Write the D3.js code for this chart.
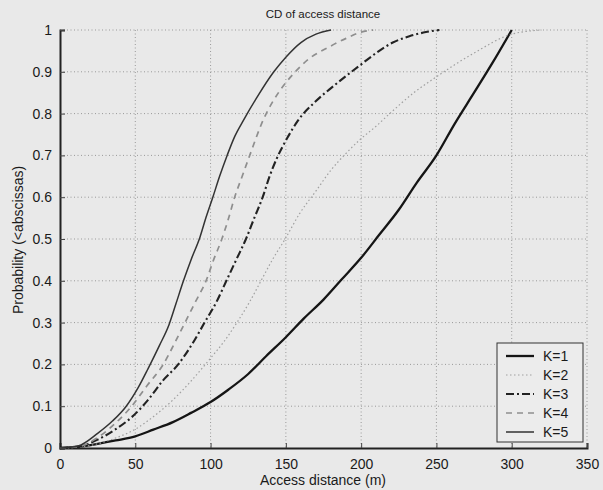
<!DOCTYPE html>
<html>
<head>
<meta charset="utf-8">
<script src="https://cdn.jsdelivr.net/npm/d3@7"></script>
<style>
  body { margin: 0; background: #e9e9e9; }
  svg { display: block; font-family: "Liberation Sans", Arial, sans-serif; }
</style>
</head>
<body>
<div id="chart"></div>
<script>
// Curve values: distance (m) and cumulative probability
const k1_x = [0, 12, 25, 37, 50, 62, 75, 87, 100, 112, 125, 137, 150, 162, 175, 187, 200, 212, 225, 237, 250, 262, 275, 287, 300];
const k1_y = [0, 0.003, 0.01, 0.018, 0.028, 0.044, 0.062, 0.084, 0.11, 0.14, 0.177, 0.22, 0.265, 0.31, 0.355, 0.403, 0.455, 0.51, 0.57, 0.635, 0.70, 0.775, 0.85, 0.92, 1.0];

const k2_x = [0, 12, 25, 37, 50, 62, 75, 87, 100, 109, 117.5, 126, 133.5, 141, 149.5, 159, 170, 180, 190, 199, 210, 219, 235, 250, 275, 300, 320];
const k2_y = [0, 0.002, 0.01, 0.024, 0.045, 0.075, 0.115, 0.16, 0.215, 0.255, 0.30, 0.35, 0.40, 0.45, 0.50, 0.56, 0.615, 0.665, 0.705, 0.737, 0.77, 0.80, 0.85, 0.888, 0.945, 0.99, 1.0];

const k3_x = [0, 12, 25, 37, 48, 58.5, 68, 78.5, 88, 96, 104, 110.5, 117, 123.5, 129, 134.6, 139, 144, 151, 158, 170, 181, 190, 199, 210, 221, 232, 243, 252];
const k3_y = [0, 0.003, 0.02, 0.045, 0.075, 0.115, 0.16, 0.20, 0.25, 0.30, 0.35, 0.40, 0.45, 0.50, 0.55, 0.60, 0.648, 0.693, 0.742, 0.783, 0.83, 0.864, 0.89, 0.915, 0.945, 0.97, 0.985, 0.995, 1.0];

const k4_x = [0, 12, 25, 37, 47.6, 58, 68.6, 76, 83, 90, 97, 102, 107.5, 112, 116, 121, 126, 135, 146, 155, 165, 179, 190, 200, 208];
const k4_y = [0, 0.003, 0.025, 0.06, 0.10, 0.15, 0.20, 0.25, 0.30, 0.35, 0.40, 0.45, 0.50, 0.55, 0.60, 0.65, 0.70, 0.785, 0.855, 0.895, 0.93, 0.96, 0.98, 0.995, 1.0];

const k5_x = [0, 12, 25, 35, 44, 52, 58.5, 66, 72.4, 77, 82, 87, 93, 97, 101.5, 106, 111, 116, 122, 131, 142, 150, 160, 170, 180];
const k5_y = [0, 0.005, 0.035, 0.065, 0.10, 0.145, 0.19, 0.245, 0.295, 0.345, 0.40, 0.45, 0.505, 0.552, 0.60, 0.65, 0.70, 0.745, 0.785, 0.84, 0.90, 0.935, 0.97, 0.99, 1.0];

const seriesNames = ["K=1", "K=2", "K=3", "K=4", "K=5"];
const xTicks = [0, 50, 100, 150, 200, 250, 300, 350];
const yTicks = [0, 0.1, 0.2, 0.3, 0.4, 0.5, 0.6, 0.7, 0.8, 0.9, 1];

// Line look for each series (MATLAB style)
const styles = [
    { color: "#151515", width: 2.3, dash: null },
    { color: "#a0a0a0", width: 1.2, dash: "1.5,2.5" },
    { color: "#222222", width: 2.1, dash: "8,3,2,3" },
    { color: "#8e8e8e", width: 1.7, dash: "6,5" },
    { color: "#333333", width: 1.5, dash: null }
];

const width = 603;
const height = 490;
const plotLeft = 60, plotRight = 587, plotTop = 30, plotBottom = 448;

const svg = d3.select("#chart")
    .append("svg")
    .attr("width", width)
    .attr("height", height);

svg.append("rect")
    .attr("width", width)
    .attr("height", height)
    .attr("fill", "#e9e9e9");

const xScale = d3.scaleLinear().domain([0, 350]).range([plotLeft, plotRight]);
const yScale = d3.scaleLinear().domain([0, 1]).range([plotBottom, plotTop]);

// Dotted grid
svg.append("g")
    .selectAll("line")
    .data(xTicks.slice(1))
    .enter().append("line")
    .attr("x1", d => xScale(d)).attr("x2", d => xScale(d))
    .attr("y1", plotTop).attr("y2", plotBottom)
    .attr("stroke", "#999")
    .attr("stroke-width", 1)
    .attr("stroke-dasharray", "1,2.5");

svg.append("g")
    .selectAll("line")
    .data(yTicks.slice(1))
    .enter().append("line")
    .attr("x1", plotLeft).attr("x2", plotRight)
    .attr("y1", d => yScale(d)).attr("y2", d => yScale(d))
    .attr("stroke", "#999")
    .attr("stroke-width", 1)
    .attr("stroke-dasharray", "1,2.5");

// Axes with inward ticks
const xAxis = d3.axisBottom(xScale)
    .tickValues(xTicks)
    .tickSize(-5)
    .tickPadding(11)
    .tickFormat(d3.format("d"));

const yAxis = d3.axisLeft(yScale)
    .tickValues(yTicks)
    .tickSize(-5)
    .tickPadding(8)
    .tickFormat(d => d === 0 || d === 1 ? d3.format("d")(d) : d3.format(".1f")(d));

const gx = svg.append("g")
    .attr("transform", `translate(0, ${plotBottom})`)
    .call(xAxis);
const gy = svg.append("g")
    .attr("transform", `translate(${plotLeft}, 0)`)
    .call(yAxis);

[gx, gy].forEach(g => {
    g.select(".domain").attr("stroke", "#222").attr("stroke-width", 2);
    g.selectAll(".tick line").attr("stroke", "#444");
    g.selectAll("text")
        .attr("fill", "#1a1a1a")
        .style("font-size", "14px")
        .style("font-family", "'Liberation Sans', Arial, sans-serif");
});

// Curves
const allX = [k1_x, k2_x, k3_x, k4_x, k5_x];
const allY = [k1_y, k2_y, k3_y, k4_y, k5_y];

const line = d3.line()
    .x(d => xScale(d[0]))
    .y(d => yScale(d[1]))
    .curve(d3.curveMonotoneX);

for (let i = 0; i < allX.length; i++) {
    const pts = allX[i].map((x, j) => [x, allY[i][j]]);
    svg.append("path")
        .datum(pts)
        .attr("fill", "none")
        .attr("stroke", styles[i].color)
        .attr("stroke-width", styles[i].width)
        .attr("stroke-dasharray", styles[i].dash)
        .attr("stroke-linejoin", "round")
        .attr("d", line);
}

// Title and axis labels
svg.append("text")
    .attr("x", 323).attr("y", 18)
    .attr("text-anchor", "middle")
    .style("font-size", "11.5px")
    .attr("fill", "#1a1a1a")
    .text("CD of access distance");

svg.append("text")
    .attr("x", 323).attr("y", 485)
    .attr("text-anchor", "middle")
    .style("font-size", "14px")
    .attr("fill", "#1a1a1a")
    .text("Access distance (m)");

svg.append("text")
    .attr("transform", "translate(23, 240) rotate(-90)")
    .attr("text-anchor", "middle")
    .style("font-size", "14px")
    .attr("fill", "#1a1a1a")
    .text("Probability (<abscissas)");

// Legend
const legend = svg.append("g");
legend.append("rect")
    .attr("x", 497).attr("y", 343)
    .attr("width", 86).attr("height", 99)
    .attr("fill", "#ececec")
    .attr("stroke", "#333")
    .attr("stroke-width", 1);

seriesNames.forEach((name, i) => {
    const y = 356 + i * 19;
    legend.append("line")
        .attr("x1", 506).attr("x2", 534)
        .attr("y1", y).attr("y2", y)
        .attr("stroke", styles[i].color)
        .attr("stroke-width", styles[i].width)
        .attr("stroke-dasharray", styles[i].dash);
    legend.append("text")
        .attr("x", 543).attr("y", y + 5)
        .style("font-size", "14px")
        .attr("fill", "#1a1a1a")
        .text(name);
});
</script>
</body>
</html>
